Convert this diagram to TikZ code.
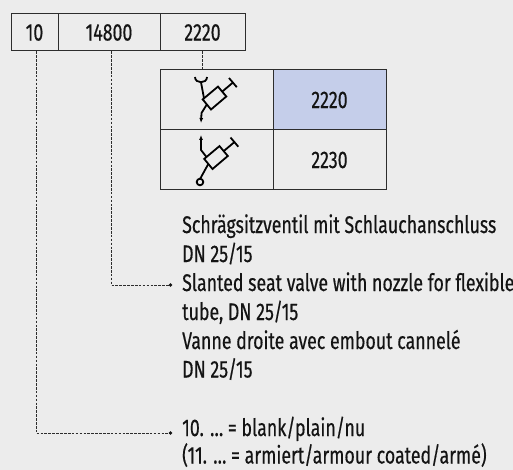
\documentclass[tikz,border=0pt]{standalone}
\usepackage{fontspec}
\setmainfont{Fira Sans}[FakeStretch=0.74,FakeBold=0.4]
\usetikzlibrary{arrows.meta}

\newlength{\du}
\setlength{\du}{1pt}
\definecolor{bgcolor}{RGB}{236,236,236}
\definecolor{cellblue}{RGB}{197,206,234}
\definecolor{rulecolor}{RGB}{45,45,45}
\definecolor{textcolor}{RGB}{20,20,20}
\newcommand{\labelfont}{\fontsize{24}{28.8}\selectfont}

\tikzset{
  codebox/.style={draw=rulecolor, line width=1\du, minimum height=37\du, inner sep=0pt, text=textcolor, font=\labelfont},
  tabcell/.style={draw=rulecolor, line width=1\du, minimum width=113\du, minimum height=60\du, inner sep=0pt, text=textcolor, font=\labelfont},
  desctext/.style={anchor=base west, inner sep=0pt, text=textcolor, font=\labelfont},
  leader/.style={draw=rulecolor, line width=0.9\du, dash pattern=on 2.6\du off 1.3\du},
  symline/.style={draw=black, line width=1.8\du, line join=miter},
  symarrow/.style={symline, -{Latex[length=5pt,width=4pt]}}
}

\begin{document}
\begin{tikzpicture}
\pgftransformxscale{1.000000}
\pgftransformyscale{-1.000000}
\fill[bgcolor] (0\du,0\du) rectangle (513\du,470\du);
\useasboundingbox (0\du,0\du) rectangle (513\du,470\du);

% order code
\node[codebox, minimum width=47\du] (c10) at (34.5\du,32.5\du) {10};
\node[codebox, minimum width=102\du] (c14800) at (109\du,32.5\du) {14800};
\node[codebox, minimum width=85\du] (c2220) at (202.5\du,32.5\du) {2220};

% variant table
\node[tabcell] (symA) at (216.5\du,100\du) {};
\node[tabcell, fill=cellblue] (numA) at (329.5\du,100\du) {2220};
\node[tabcell] (symB) at (216.5\du,160\du) {};
\node[tabcell] (numB) at (329.5\du,160\du) {2230};

% valve with nozzle
\draw[symline] (226.3\du,96.5\du)--(218.0\du,86.6\du)--(202.7\du,99.4\du)--(211.0\du,109.5\du)--cycle;
\draw[symline] (222.2\du,91.6\du)--(232.9\du,82.6\du);
\draw[symline] (229.0\du,78.0\du)--(236.8\du,87.2\du);
\draw[symline] (195\du,77\du) .. controls (195\du,84\du) and (207\du,84\du) .. (207\du,77\du);
\draw[symline] (201\du,82.3\du)--(204\du,98.3\du);
\draw[symarrow] (206.9\du,104.4\du)--(201.5\du,113\du)--(201\du,123\du);

% valve with drain
\draw[symline] (227.8\du,156.0\du)--(219.5\du,146.1\du)--(204.2\du,158.9\du)--(212.5\du,169.0\du)--cycle;
\draw[symline] (223.7\du,151.1\du)--(234.4\du,142.1\du);
\draw[symline] (230.5\du,137.5\du)--(238.3\du,146.7\du);
\draw[symarrow] (206.5\du,157\du)--(201\du,150\du)--(201\du,135\du);
\draw[symline] (208.3\du,164\du)--(200.2\du,178.7\du);
\draw[symline] (200\du,182\du) circle (3.3\du);

% descriptions
\node[desctext] (deA) at (182\du,233\du) {Schrägsitzventil mit Schlauchanschluss};
\node[desctext] (deB) at (182\du,262\du) {DN 25/15};
\node[desctext] (enA) at (182\du,291\du) {Slanted seat valve with nozzle for flexible};
\node[desctext] (enB) at (182\du,320\du) {tube, DN 25/15};
\node[desctext] (frA) at (182\du,349\du) {Vanne droite avec embout cannelé};
\node[desctext] (frB) at (182\du,377.5\du) {DN 25/15};
\node[desctext] (matA) at (182\du,436\du) {10. … = blank/plain/nu};
\node[desctext] (matB) at (182\du,463.5\du) {(11. … = armiert/armour coated/armé)};

% leaders
\coordinate (dotEN) at (170.5\du,285\du);
\coordinate (dotMAT) at (170.5\du,433\du);
\draw[leader] ([xshift=1.5\du]c10.south) |- (dotMAT);
\draw[leader] ([xshift=2\du]c14800.south) |- (dotEN);
\draw[leader] (c2220.south) -- (c2220.south |- symA.north);
\fill[textcolor] (dotEN) circle (1.8\du);
\fill[textcolor] (dotMAT) circle (1.8\du);
\end{tikzpicture}
\end{document}
